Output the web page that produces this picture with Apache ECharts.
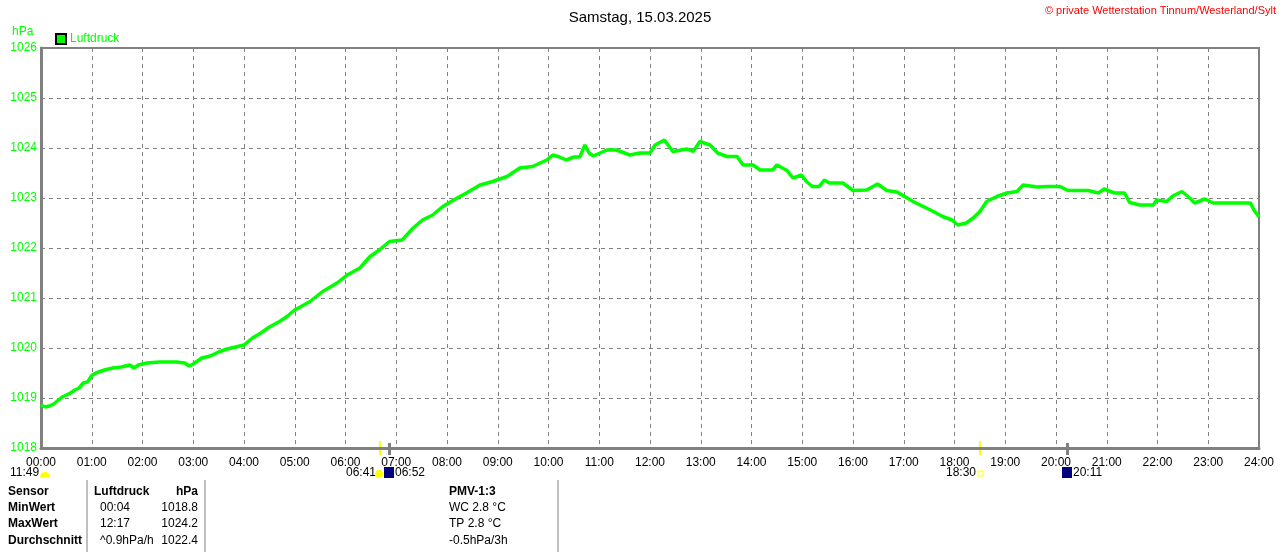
<!DOCTYPE html>
<html>
<head>
<meta charset="utf-8">
<script src="https://cdn.jsdelivr.net/npm/echarts@6/dist/echarts.min.js"></script>
<style>
html, body { margin: 0; padding: 0; background: #fff; }
#container { width: 1280px; height: 552px; }
</style>
</head>
<body>
<div id="container"></div>
<script>
// minutes since midnight
var minutes = [0, 5, 10, 15, 20, 25, 35, 40, 45, 50, 55, 60, 65, 75, 85, 95, 105, 110, 115, 125,
    140, 160, 170, 175, 180, 190, 200, 210, 220, 230, 240, 250, 260, 270, 282, 290, 300, 318, 333, 350,
    362, 377, 389, 400, 412, 427, 440, 451, 463, 475, 492, 503, 519, 534, 551, 566, 581, 598, 605, 613,
    621, 630, 637, 643, 648, 653, 669, 680, 690, 696, 708, 720, 726, 737, 747, 764, 771, 779, 791, 800,
    811, 823, 830, 842, 850, 865, 870, 882, 889, 899, 905, 912, 920, 926, 932, 948, 960, 976, 989, 1000,
    1012, 1021, 1031, 1043, 1055, 1066, 1077, 1084, 1094, 1102, 1110, 1118, 1130, 1142, 1154, 1161, 1178, 1190, 1205, 1214,
    1238, 1250, 1257, 1269, 1281, 1287, 1299, 1315, 1319, 1331, 1338, 1349, 1358, 1364, 1376, 1386, 1410, 1430, 1434, 1440];
var luftdruck = [1018.86, 1018.82, 1018.84, 1018.88, 1018.95, 1019.02, 1019.1, 1019.16, 1019.2, 1019.3, 1019.32, 1019.45, 1019.5, 1019.56, 1019.6, 1019.62, 1019.66, 1019.6, 1019.66, 1019.7,
    1019.72, 1019.72, 1019.7, 1019.64, 1019.68, 1019.8, 1019.84, 1019.92, 1019.98, 1020.02, 1020.06, 1020.2, 1020.3, 1020.42, 1020.53, 1020.62, 1020.76, 1020.93, 1021.13, 1021.3,
    1021.46, 1021.6, 1021.83, 1021.96, 1022.13, 1022.16, 1022.4, 1022.56, 1022.66, 1022.83, 1023.0, 1023.1, 1023.26, 1023.33, 1023.43, 1023.6, 1023.63, 1023.76, 1023.86, 1023.82,
    1023.76, 1023.82, 1023.82, 1024.06, 1023.9, 1023.84, 1023.96, 1023.96, 1023.9, 1023.86, 1023.9, 1023.9, 1024.06, 1024.16, 1023.93, 1023.98, 1023.93, 1024.13, 1024.06, 1023.9,
    1023.83, 1023.83, 1023.66, 1023.66, 1023.56, 1023.56, 1023.66, 1023.55, 1023.4, 1023.46, 1023.33, 1023.23, 1023.23, 1023.36, 1023.3, 1023.3, 1023.15, 1023.16, 1023.28, 1023.15,
    1023.12, 1023.03, 1022.93, 1022.83, 1022.73, 1022.63, 1022.56, 1022.46, 1022.5, 1022.6, 1022.73, 1022.93, 1023.03, 1023.1, 1023.13, 1023.26, 1023.22, 1023.23, 1023.23, 1023.15,
    1023.15, 1023.1, 1023.18, 1023.1, 1023.1, 1022.91, 1022.86, 1022.86, 1022.96, 1022.93, 1023.04, 1023.13, 1023.0, 1022.9, 1022.98, 1022.9, 1022.9, 1022.9, 1022.76, 1022.62];

var hourLabels = ['00:00','01:00','02:00','03:00','04:00','05:00','06:00','07:00','08:00','09:00','10:00','11:00',
    '12:00','13:00','14:00','15:00','16:00','17:00','18:00','19:00','20:00','21:00','22:00','23:00','24:00'];

var tableRows = [
    ['Sensor', 'Luftdruck', 'hPa', 'PMV-1:3'],
    ['MinWert', '00:04', '1018.8', 'WC 2.8 °C'],
    ['MaxWert', '12:17', '1024.2', 'TP 2.8 °C'],
    ['Durchschnitt', '^0.9hPa/h', '1022.4', '-0.5hPa/3h']
];

var green = '#00ff00';
var font = 'Liberation Sans, Arial, sans-serif';

var seriesData = minutes.map(function (m, i) { return [m, luftdruck[i]]; });

var dom = document.getElementById('container');
var myChart = echarts.init(dom);

// table text below the chart
var tableGraphics = [];
var rowY = [493, 509, 525, 542];
tableRows.forEach(function (row, r) {
    var bold = r === 0;
    tableGraphics.push({ type: 'text', left: 8, top: rowY[r] - 7,
        style: { text: row[0], font: 'bold 12px ' + font, fill: '#000' } });
    tableGraphics.push({ type: 'text', left: r === 0 ? 94 : 100, top: rowY[r] - 7,
        style: { text: row[1], font: (bold ? 'bold ' : '') + '12px ' + font, fill: '#000' } });
    tableGraphics.push({ type: 'text', right: 1280 - 198, top: rowY[r] - 7,
        style: { text: row[2], font: (bold ? 'bold ' : '') + '12px ' + font, fill: '#000', align: 'right' } });
    tableGraphics.push({ type: 'text', left: 449, top: rowY[r] - 7,
        style: { text: row[3], font: (bold ? 'bold ' : '') + '12px ' + font, fill: '#000' } });
});

var option = {
    backgroundColor: '#fff',
    animation: false,
    title: {
        text: 'Samstag, 15.03.2025',
        left: 'center',
        top: 5,
        textStyle: { fontFamily: font, fontSize: 15, fontWeight: 'normal', color: '#000' }
    },
    legend: {
        data: ['Luftdruck'],
        left: 50,
        top: 28,
        itemWidth: 10,
        itemHeight: 10,
        itemGap: 4,
        icon: 'rect',
        textStyle: { color: green, fontFamily: font, fontSize: 12, padding: [0, 0, 0, -1] }
    },
    grid: {
        left: 41, right: 21, top: 48, bottom: 104,
        show: true,
        borderColor: '#808080',
        borderWidth: 2
    },
    xAxis: {
        type: 'value',
        min: 0,
        max: 1440,
        interval: 60,
        axisLine: { lineStyle: { color: '#808080', width: 3 } },
        axisTick: { show: false },
        splitLine: { show: true, lineStyle: { color: '#808080', type: [4, 4], width: 1 } },
        axisLabel: {
            color: '#000', fontFamily: font, fontSize: 12, margin: 9,
            formatter: function (v) { return hourLabels[Math.round(v / 60)]; }
        }
    },
    yAxis: {
        type: 'value',
        min: 1018,
        max: 1026,
        interval: 1,
        axisLine: { show: true, lineStyle: { color: '#808080', width: 3 } },
        axisTick: { show: false },
        splitLine: { show: true, lineStyle: { color: '#808080', type: [4, 4], width: 1 } },
        axisLabel: {
            color: green, fontFamily: font, fontSize: 12, margin: 4,
            formatter: function (v) { return String(v); }
        }
    },
    series: [
        {
            name: 'Luftdruck',
            type: 'line',
            data: seriesData,
            showSymbol: false,
            itemStyle: { color: green, borderColor: '#000', borderWidth: 1 },
            lineStyle: { color: green, width: 3.5 }
        }
    ],
    graphic: [
        { type: 'text', left: 12, top: 26, style: { text: 'hPa', font: '12px ' + font, fill: green } },
        { type: 'text', right: 4, top: 5,
          style: { text: '© private Wetterstation Tinnum/Westerland/Sylt', font: '11px ' + font, fill: '#ff0000', align: 'right' } },
        // sun markers at axis
        { type: 'rect', shape: { x: 379, y: 441, width: 2, height: 14 }, style: { fill: '#ffff00' } },
        { type: 'rect', shape: { x: 388, y: 443, width: 3, height: 12 }, style: { fill: '#808080' } },
        { type: 'rect', shape: { x: 979, y: 441, width: 2, height: 14 }, style: { fill: '#ffff00' } },
        { type: 'rect', shape: { x: 1066, y: 443, width: 3, height: 12 }, style: { fill: '#808080' } },
        // day length
        { type: 'text', left: 10, top: 467, style: { text: '11:49', font: '12px ' + font, fill: '#000' } },
        { type: 'sector', shape: { cx: 45, cy: 477, r: 5, r0: 0, startAngle: Math.PI, endAngle: 2 * Math.PI }, style: { fill: '#ffff00' } },
        // sunrise / sunset labels
        { type: 'text', left: 346, top: 467, style: { text: '06:41', font: '12px ' + font, fill: '#000' } },
        { type: 'circle', shape: { cx: 379, cy: 474, r: 4 }, style: { fill: '#ffff00' } },
        { type: 'rect', shape: { x: 384, y: 467, width: 10, height: 11 }, style: { fill: '#000080' } },
        { type: 'text', left: 395, top: 467, style: { text: '06:52', font: '12px ' + font, fill: '#000' } },
        { type: 'text', left: 946, top: 467, style: { text: '18:30', font: '12px ' + font, fill: '#000' } },
        { type: 'rect', shape: { x: 978, y: 471, width: 5, height: 5 }, style: { fill: 'none', stroke: '#ffff00', lineWidth: 1 } },
        { type: 'rect', shape: { x: 1062, y: 467, width: 10, height: 11 }, style: { fill: '#000080' } },
        { type: 'text', left: 1073, top: 467, style: { text: '20:11', font: '12px ' + font, fill: '#000' } },
        // table separators
        { type: 'line', shape: { x1: 87, y1: 480, x2: 87, y2: 552 }, style: { stroke: '#808080', lineWidth: 1 } },
        { type: 'line', shape: { x1: 205, y1: 480, x2: 205, y2: 552 }, style: { stroke: '#808080', lineWidth: 1 } },
        { type: 'line', shape: { x1: 558, y1: 480, x2: 558, y2: 552 }, style: { stroke: '#808080', lineWidth: 1 } }
    ].concat(tableGraphics)
};

if (option && typeof option === 'object') {
    myChart.setOption(option, true);
}
</script>
</body>
</html>
